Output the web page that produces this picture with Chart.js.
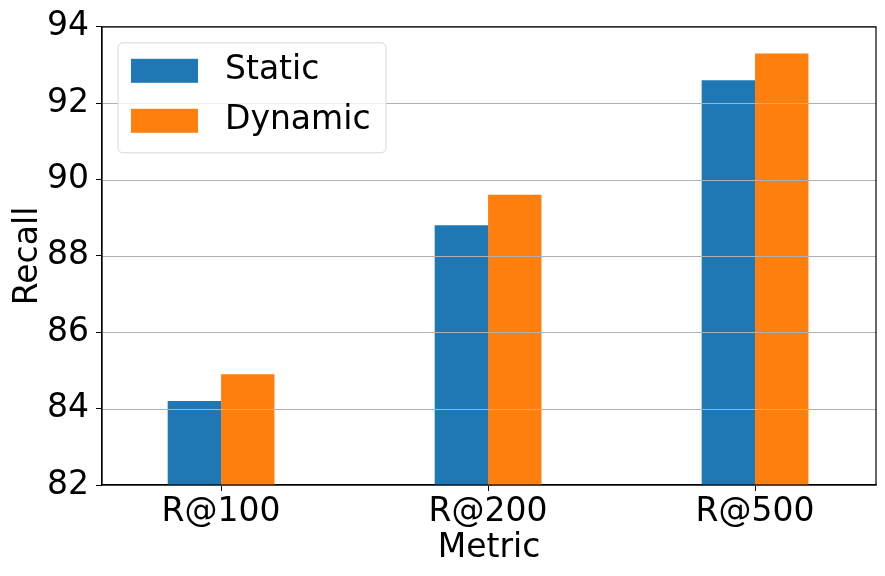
<!DOCTYPE html>
<html>
<head>
<meta charset="utf-8">
<script src="https://cdn.jsdelivr.net/npm/chart.js@4/dist/chart.umd.min.js"></script>
<style>
  html, body { margin: 0; padding: 0; background: #fff; }
  #wrap { width: 885px; height: 576px; position: relative; }
</style>
</head>
<body>
<div id="wrap"><canvas id="myChart"></canvas></div>
<script>
const metrics = ['R@100', 'R@200', 'R@500'];
const staticRecall = [84.2, 88.8, 92.6];
const dynamicRecall = [84.9, 89.6, 93.3];
const yTicks = [82, 84, 86, 88, 90, 92, 94];

const FONT = 'DejaVu Sans';

function points(vals) {
  return vals.map((v, i) => ({ x: i, y: v }));
}

// gridlines over the bars, full frame, legend inside the axes
const overlay = {
  id: 'overlay',
  afterDatasetsDraw(chart) {
    const c = chart.ctx;
    const a = chart.chartArea;
    const ys = chart.scales.y;
    c.save();
    c.strokeStyle = '#b0b0b0';
    c.lineWidth = 1;
    yTicks.forEach(t => {
      const py = Math.round(ys.getPixelForValue(t)) + 0.5;
      c.beginPath();
      c.moveTo(a.left, py);
      c.lineTo(a.right, py);
      c.stroke();
    });
    c.strokeStyle = '#000';
    c.lineWidth = 1.2;
    c.strokeRect(a.left, a.top, a.right - a.left, a.bottom - a.top);

    // legend
    const lx = a.left + 16, ly = a.top + 16, lw = 268, lh = 110;
    c.beginPath();
    c.roundRect(lx, ly, lw, lh, 5);
    c.fillStyle = 'rgba(255,255,255,0.8)';
    c.fill();
    c.strokeStyle = '#d6d6d6';
    c.lineWidth = 1;
    c.stroke();
    c.font = '33px "' + FONT + '"';
    c.textBaseline = 'middle';
    chart.data.datasets.forEach((ds, i) => {
      const cy = ly + 28 + i * 50;
      c.fillStyle = ds.backgroundColor;
      c.fillRect(lx + 13, cy - 12, 67, 24);
      c.fillStyle = '#000';
      c.fillText(ds.label, lx + 107, cy);
    });
    c.restore();
  }
};

const data = {
  datasets: [{
    label: 'Static',
    data: points(staticRecall),
    backgroundColor: '#1f77b4'
  }, {
    label: 'Dynamic',
    data: points(dynamicRecall),
    backgroundColor: '#ff7f0e'
  }]
};

const config = {
  type: 'bar',
  data: data,
  options: {
    responsive: true,
    maintainAspectRatio: false,
    animation: false,
    categoryPercentage: 0.4,
    barPercentage: 1.0,
    layout: { padding: { top: 23, right: 9, left: 0, bottom: 0 } },
    plugins: {
      legend: { display: false },
      tooltip: { enabled: false }
    },
    scales: {
      x: {
        type: 'linear',
        offset: false,
        min: -0.446,
        max: 2.453,
        afterBuildTicks: (s) => { s.ticks = metrics.map((m, i) => ({ value: i })); },
        afterFit: (s) => { s.height = 91; },
        ticks: {
          autoSkip: false,
          maxRotation: 0,
          padding: 2,
          color: '#000',
          font: { family: FONT, size: 33 },
          callback: (v) => metrics[v]
        },
        grid: { offset: false, drawOnChartArea: false, drawTicks: true, tickLength: 6, color: '#000' },
        border: { color: '#000', width: 1.2 },
        title: {
          display: true,
          text: 'Metric',
          color: '#000',
          font: { family: FONT, size: 33 },
          padding: { top: 0, bottom: 8 }
        }
      },
      y: {
        min: 82,
        max: 94,
        afterBuildTicks: (s) => { s.ticks = yTicks.map(v => ({ value: v })); },
        afterFit: (s) => { s.width = 102; },
        ticks: {
          padding: 7,
          color: '#000',
          font: { family: FONT, size: 33 }
        },
        grid: { drawOnChartArea: false, drawTicks: true, tickLength: 6, color: '#000' },
        border: { color: '#000', width: 1.2 },
        title: {
          display: true,
          text: 'Recall',
          color: '#000',
          font: { family: FONT, size: 33 },
          padding: { top: 9, bottom: 0 }
        }
      }
    }
  },
  plugins: [overlay]
};

const ctx = document.getElementById('myChart');
let chart = new Chart(ctx, config);
</script>
</body>
</html>
